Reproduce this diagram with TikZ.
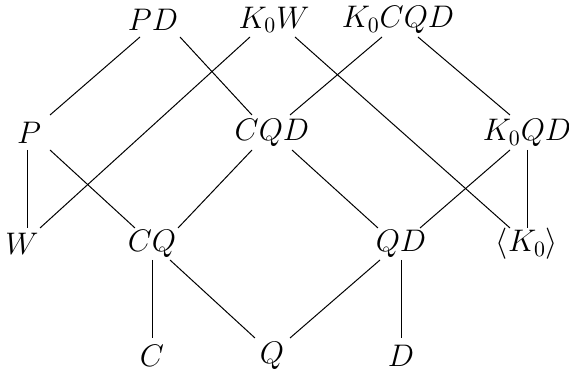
\RequirePackage{fix-cm}
\documentclass[tikz,border=0pt]{standalone}
\begin{document}
\begin{tikzpicture}[x=0.5pt,y=-0.5pt,
  lbl/.style={inner sep=1pt,font=\fontsize{15.6}{18}\selectfont},
  edge/.style={line width=0.5pt}]
\useasboundingbox (0,0) rectangle (569,374);
\node[lbl] (PD) at (153,20) {$PD$};
\node[lbl] (K0W) at (274,20) {$K_0W$};
\node[lbl] (K0CQD) at (398,20) {$K_0CQD$};
\node[lbl] (P) at (29,133) {$P$};
\node[lbl] (CQD) at (272,133) {$CQD$};
\node[lbl] (K0QD) at (527,133) {$K_0QD$};
\node[lbl] (W) at (22,244) {$W$};
\node[lbl] (CQ) at (152,244) {$CQ$};
\node[lbl] (QD) at (401,244) {$QD$};
\node[lbl] (K0) at (527,244) {$\langle K_0\rangle$};
\node[lbl] (C) at (152,356) {$C$};
\node[lbl] (Q) at (272,356) {$Q$};
\node[lbl] (D) at (401,356) {$D$};
\draw[edge] ([shift={(-13,17)}]PD.center) -- ([shift={(21,-18)}]P.center);
\draw[edge] ([shift={(27,17)}]PD.center) -- ([shift={(-20,-18)}]CQD.center);
\draw[edge] ([shift={(-24,17)}]K0W.center) -- ([shift={(18,-16)}]W.center);
\draw[edge] ([shift={(21,17)}]K0W.center) -- ([shift={(-17,-16)}]K0.center);
\draw[edge] ([shift={(-16,17)}]K0CQD.center) -- ([shift={(18,-18)}]CQD.center);
\draw[edge] ([shift={(20,17)}]K0CQD.center) -- ([shift={(-17,-18)}]K0QD.center);
\draw[edge] ([shift={(-2,17)}]P.center) -- ([shift={(5,-16)}]W.center);
\draw[edge] ([shift={(21,17)}]P.center) -- ([shift={(-17,-16)}]CQ.center);
\draw[edge] ([shift={(-20,17)}]CQD.center) -- ([shift={(26,-16)}]CQ.center);
\draw[edge] ([shift={(20,17)}]CQD.center) -- ([shift={(-23,-16)}]QD.center);
\draw[edge] ([shift={(-17,17)}]K0QD.center) -- ([shift={(19,-16)}]QD.center);
\draw[edge] ([shift={(0,17)}]K0QD.center) -- ([shift={(0,-16)}]K0.center);
\draw[edge] ([shift={(0,16)}]CQ.center) -- ([shift={(0,-18)}]C.center);
\draw[edge] ([shift={(18,16)}]CQ.center) -- ([shift={(-17,-18)}]Q.center);
\draw[edge] ([shift={(-21,16)}]QD.center) -- ([shift={(18,-18)}]Q.center);
\draw[edge] ([shift={(0,16)}]QD.center) -- ([shift={(0,-18)}]D.center);
\end{tikzpicture}
\end{document}
